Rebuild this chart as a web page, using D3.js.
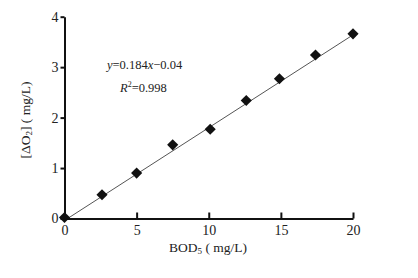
<!DOCTYPE html>
<html>
<head>
<meta charset="utf-8">
<script src="https://cdn.jsdelivr.net/npm/d3@7"></script>
<style>
  body { margin: 0; background: #fff; }
  text { font-family: "Liberation Serif", "DejaVu Serif", serif; fill: #222; }
</style>
</head>
<body>
<svg id="chart" width="418" height="278"></svg>
<script>
// Measured BOD5 vs change in dissolved oxygen.
const bodValues = [0, 2.6, 5, 7.5, 10.1, 12.6, 14.9, 17.4, 20];
const doValues = [0.02, 0.47, 0.9, 1.46, 1.77, 2.34, 2.77, 3.24, 3.66];
const xTicks = [0, 5, 10, 15, 20];
const yTicks = [0, 1, 2, 3, 4];
const fitSlope = 0.184;
const fitIntercept = -0.04;

const svg = d3.select('#chart');

const x = d3.scaleLinear().domain([0, 20]).range([64.5, 353]);
const y = d3.scaleLinear().domain([0, 4]).range([218.5, 16.7]);

// Fit line, clipped at the axes.
const x0 = -fitIntercept / fitSlope;
svg.append('line')
  .attr('x1', x(x0)).attr('y1', y(0))
  .attr('x2', x(20)).attr('y2', y(fitSlope * 20 + fitIntercept))
  .attr('stroke', '#555')
  .attr('stroke-width', 1);

// Axes.
const xAxis = svg.append('g')
  .attr('transform', `translate(0,${y(0)})`)
  .call(d3.axisBottom(x).tickValues(xTicks).tickFormat(d3.format('d'))
    .tickSizeInner(-6).tickSizeOuter(0).tickPadding(5));
const yAxis = svg.append('g')
  .attr('transform', `translate(${x(0)},0)`)
  .call(d3.axisLeft(y).tickValues(yTicks).tickFormat(d3.format('d'))
    .tickSizeInner(4).tickSizeOuter(0).tickPadding(2));

[xAxis, yAxis].forEach(g => {
  g.select('.domain').attr('stroke', '#111').attr('stroke-width', 2);
  g.selectAll('.tick line').attr('stroke', '#111').attr('stroke-width', 2);
  g.selectAll('.tick text').attr('font-family', '"Liberation Serif", serif')
    .attr('font-size', 14).attr('fill', '#222');
});
xAxis.selectAll('.tick text').attr('dy', '0.85em');

// Data points as diamonds.
svg.selectAll('path.pt')
  .data(bodValues.map((b, i) => [b, doValues[i]]))
  .join('path')
  .attr('class', 'pt')
  .attr('d', d3.symbol().type(d3.symbolSquare).size(62))
  .attr('transform', d => `translate(${x(d[0])},${y(d[1])}) rotate(45)`)
  .attr('fill', '#111');

// Regression annotation.
const eq = svg.append('text').attr('x', 107).attr('y', 69).attr('font-size', 12.5);
eq.append('tspan').attr('font-style', 'italic').text('y');
eq.append('tspan').text('=0.184');
eq.append('tspan').attr('font-style', 'italic').text('x');
eq.append('tspan').text('\u22120.04');

const r2 = svg.append('text').attr('x', 120).attr('y', 92).attr('font-size', 12.5);
r2.append('tspan').attr('font-style', 'italic').text('R');
r2.append('tspan').attr('font-size', 8).attr('dy', -5).text('2');
r2.append('tspan').attr('dy', 5).text('=0.998');

// Axis titles.
const xl = svg.append('text').attr('x', 208).attr('y', 252)
  .attr('text-anchor', 'middle').attr('font-size', 13.5);
xl.append('tspan').text('BOD');
xl.append('tspan').attr('font-size', 9).attr('dy', 2).text('5');
xl.append('tspan').attr('dy', -2).text(' ( mg/L)');

const yl = svg.append('text')
  .attr('transform', 'translate(30,120) rotate(-90)')
  .attr('text-anchor', 'middle').attr('font-size', 13.5);
yl.append('tspan').text('[\u0394O');
yl.append('tspan').attr('font-size', 9).attr('dy', 2).text('2');
yl.append('tspan').attr('dy', -2).text('] ( mg/L)');
</script>
</body>
</html>
